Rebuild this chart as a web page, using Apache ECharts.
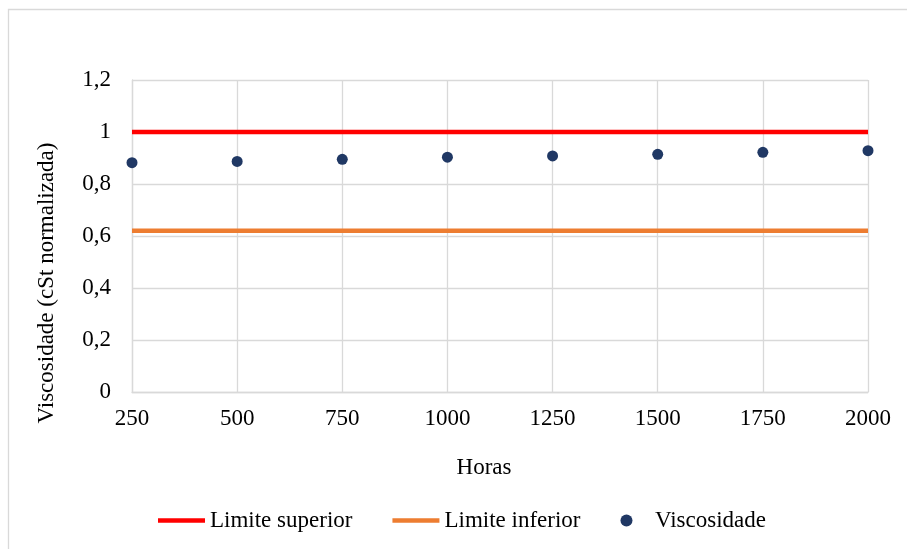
<!DOCTYPE html>
<html>
<head>
<meta charset="utf-8">
<script src="https://cdn.jsdelivr.net/npm/echarts@6/dist/echarts.min.js"></script>
<style>
html,body{margin:0;padding:0;background:#fff;}
#chart{width:907px;height:549px;}
</style>
</head>
<body>
<div id="chart"></div>
<script>
const hours = [250, 500, 750, 1000, 1250, 1500, 1750, 2000];
const limiteSuperior = [1, 1, 1, 1, 1, 1, 1, 1];
const limiteInferior = [0.62, 0.62, 0.62, 0.62, 0.62, 0.62, 0.62, 0.62];
const viscosidade = [0.882, 0.887, 0.895, 0.903, 0.908, 0.914, 0.922, 0.928];
const yTicks = ['0', '0,2', '0,4', '0,6', '0,8', '1', '1,2'];

const FONT = '"Liberation Serif", "Times New Roman", serif';
const pair = (xs, ys) => xs.map((x, i) => [x, ys[i]]);
const LINE_ICON = 'path://M0,0L47,0L47,4.5L0,4.5Z';

const chart = echarts.init(document.getElementById('chart'), null, {renderer: 'canvas'});
chart.setOption({
  animation: false,
  backgroundColor: '#ffffff',
  grid: {left: 132, right: 39, top: 80, bottom: 157, containLabel: false},
  xAxis: {
    type: 'value', min: 250, max: 2000, interval: 250,
    axisLine: {show: true, lineStyle: {color: '#d9d9d9', width: 1.3}},
    axisTick: {show: false},
    splitLine: {show: true, lineStyle: {color: '#d9d9d9', width: 1.3}},
    axisLabel: {color: '#000', fontFamily: FONT, fontSize: 23, margin: 15, formatter: (v) => String(v)}
  },
  yAxis: {
    type: 'value', min: 0, max: 1.2, interval: 0.2,
    axisLine: {show: true, lineStyle: {color: '#d9d9d9', width: 1.3}},
    axisTick: {show: false},
    splitLine: {show: true, lineStyle: {color: '#d9d9d9', width: 1.3}},
    axisLabel: {
      color: '#000', fontFamily: FONT, fontSize: 23, margin: 21,
      formatter: (v) => yTicks[Math.round(v / 0.2)]
    }
  },
  legend: {
    bottom: 12, left: 153,
    itemWidth: 47, itemHeight: 12, itemGap: 40,
    symbolKeepAspect: true,
    textStyle: {color: '#000', fontFamily: FONT, fontSize: 23},
    data: [
      {name: 'Limite superior', icon: LINE_ICON, itemStyle: {color: '#ff0000', borderWidth: 0}},
      {name: 'Limite inferior', icon: LINE_ICON, itemStyle: {color: '#ed7d31', borderWidth: 0}},
      {name: 'Viscosidade', icon: 'circle'}
    ]
  },
  series: [
    {
      name: 'Limite superior', type: 'line', data: pair(hours, limiteSuperior),
      symbol: 'none', showSymbol: false,
      lineStyle: {color: '#ff0000', width: 4.5}, itemStyle: {color: '#ff0000'}
    },
    {
      name: 'Limite inferior', type: 'line', data: pair(hours, limiteInferior),
      symbol: 'none', showSymbol: false,
      lineStyle: {color: '#ed7d31', width: 4.5}, itemStyle: {color: '#ed7d31'}
    },
    {
      name: 'Viscosidade', type: 'scatter', data: pair(hours, viscosidade),
      symbol: 'circle', symbolSize: 11,
      itemStyle: {color: '#203864', opacity: 1}
    }
  ],
  graphic: [
    {
      type: 'rect', left: 6, top: 7, z: -10, silent: true,
      shape: {width: 900, height: 560},
      style: {fill: 'none', stroke: '#d9d9d9', lineWidth: 1.3}
    },
    {
      type: 'text', x: 484, y: 468,
      style: {text: 'Horas', font: '23px ' + FONT, fill: '#000', align: 'center', verticalAlign: 'middle'}
    },
    {
      type: 'text', x: 47, y: 283, rotation: Math.PI / 2,
      style: {text: 'Viscosidade (cSt normalizada)', font: '23px ' + FONT, fill: '#000', align: 'center', verticalAlign: 'middle'}
    }
  ]
});
</script>
</body>
</html>
